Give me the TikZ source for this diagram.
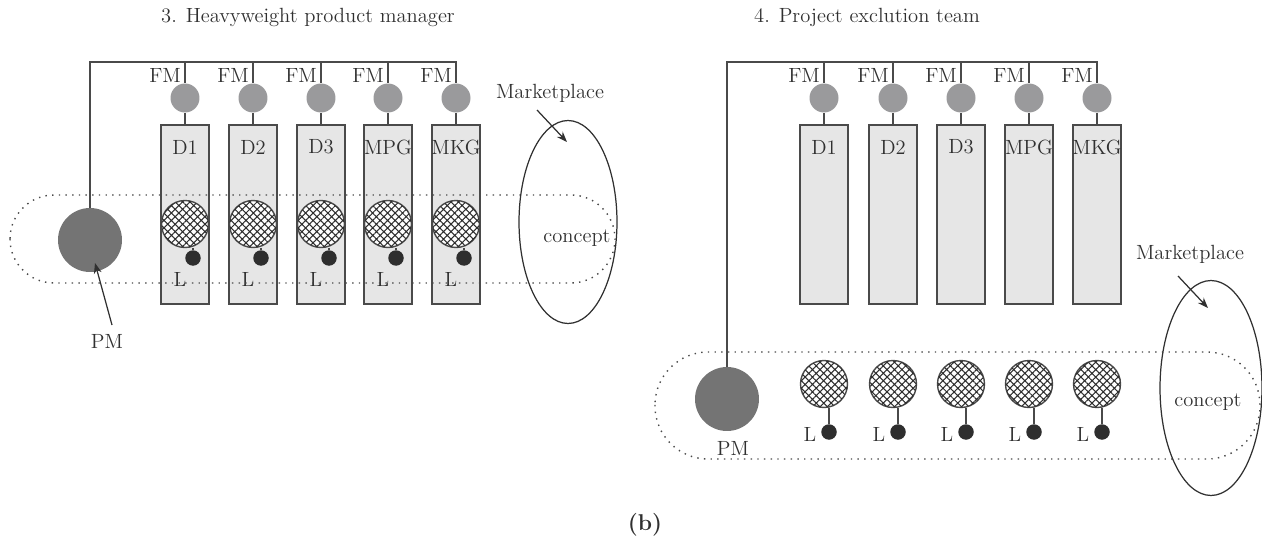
\documentclass[tikz,border=0pt]{standalone}
\usepackage{tikz}
\usetikzlibrary{positioning,arrows.meta,shapes.geometric,patterns.meta}
\definecolor{orgline}{HTML}{4A4A4A}
\definecolor{orgtext}{HTML}{303030}
\definecolor{orgbox}{HTML}{E6E6E6}
\definecolor{orgfm}{HTML}{9A9A9C}
\definecolor{orgpm}{HTML}{747474}
\definecolor{orgdot}{HTML}{2E2E2E}

\begin{document}
\begin{tikzpicture}[
  x=0.02cm,y=-0.02cm,
  lbl/.style={font=\fontsize{11.7}{14}\selectfont,text=orgtext,inner sep=1pt},
  fmdot/.style={circle,fill=orgfm,inner sep=0pt,minimum size=0.58cm},
  dept/.style={draw=orgline,fill=orgbox,line width=0.7pt,minimum width=0.96cm,minimum height=3.58cm,inner sep=0pt},
  hatch/.style={circle,draw=orgline,line width=0.8pt,fill=white,inner sep=0pt,minimum size=0.94cm,
    postaction={pattern={Hatch[angle=45,distance=3pt,line width=0.6pt]},pattern color=orgdot}},
  ldot/.style={circle,fill=orgdot,inner sep=0pt,minimum size=0.31cm},
  pmdot/.style={circle,fill=orgpm,inner sep=0pt,minimum size=1.28cm},
  wire/.style={draw=orgline,line width=0.7pt},
  team/.style={draw=orgline,line width=0.8pt,dash pattern=on 0.8pt off 3pt},
  mkt/.style={ellipse,draw=orgtext,line width=0.7pt,inner sep=0pt},
  arr/.style={draw=orgtext,line width=0.7pt,-{Stealth[length=6pt,width=4.5pt]}}
]
\useasboundingbox (0,0) rectangle (1262,541);

% 3. heavyweight product manager
\node[lbl] (titleL) at (308,17) {3. Heavyweight product manager};
\coordinate (busL) at (91,62);
\node[pmdot] (pmL) at (90,240) {};
\foreach \x/\t [count=\k] in {185/D1,253/D2,321/D3,388/MPG,456/MKG}{
  \node[dept] (dL\k) at (\x,214.5) {};
  \node[lbl] (dtL\k) at (\x,147) {\t};
  \node[fmdot] (fmL\k) at (\x,98) {};
  \node[lbl,anchor=east] (fmtL\k) at (\x-2,75) {FM};
  \draw[wire] (fmL\k.north |- busL) -- (fmL\k.north);
  \draw[wire] (fmL\k.south) -- (dL\k.north);
  \node[hatch] (hL\k) at (\x,224) {};
  \node[ldot] (ldL\k) at (\x+8,258) {};
  \draw[wire] (ldL\k.north) -- (ldL\k.north |- hL\k.south);
  \node[lbl] (ltL\k) at (\x-5,279) {L};
}
\draw[wire] (pmL.north) |- (busL) -| (fmL5.north);
\draw[team,rounded corners=0.88cm] (10,195) rectangle (615,283);
\node[mkt,minimum width=1.96cm,minimum height=4.06cm] (mktL) at (568,222) {};
\node[lbl] (mkttL) at (550,93) {Marketplace};
\coordinate (mkaL) at (537,110);
\coordinate (mkbL) at (567,142);
\draw[arr] (mkaL) -- (mkbL);
\node[lbl] (conL) at (577,238) {concept};
\node[lbl] (pmtL) at (107,341) {PM};
\coordinate (pmaL) at (112,325);
\coordinate (pmbL) at (95,263);
\draw[arr] (pmaL) -- (pmbL);

% 4. project execution team
\node[lbl] (titleR) at (867,17) {4. Project exclution team};
\coordinate (busR) at (728,62);
\node[pmdot] (pmR) at (727,399) {};
\foreach \x/\t [count=\k] in {824/D1,893/D2,961/D3,1029/MPG,1097/MKG}{
  \node[dept] (dR\k) at (\x,214.5) {};
  \node[lbl] (dtR\k) at (\x,147) {\t};
  \node[fmdot] (fmR\k) at (\x,98) {};
  \node[lbl,anchor=east] (fmtR\k) at (\x-2,75) {FM};
  \draw[wire] (fmR\k.north |- busR) -- (fmR\k.north);
  \draw[wire] (fmR\k.south) -- (dR\k.north);
  \node[hatch] (hR\k) at (\x,384) {};
  \node[ldot] (ldR\k) at (\x+5,432) {};
  \draw[wire] (ldR\k.north) -- (ldR\k.north |- hR\k.south);
  \node[lbl] (ltR\k) at (\x-14,434) {L};
}
\draw[wire] (pmR.north) |- (busR) -| (fmR5.north);
\draw[team,rounded corners=1.06cm] (655,352) rectangle (1260,459);
\node[mkt,minimum width=2.04cm,minimum height=4.3cm] (mktR) at (1211,388) {};
\node[lbl] (mkttR) at (1190,254) {Marketplace};
\coordinate (mkaR) at (1178,276);
\coordinate (mkbR) at (1208,308);
\draw[arr] (mkaR) -- (mkbR);
\node[lbl] (conR) at (1208,402) {concept};
\node[lbl] (pmtR) at (733,448) {PM};

\node[lbl,font=\fontsize{13}{15}\selectfont\bfseries] (capB) at (645,525) {(b)};
\end{tikzpicture}
\end{document}
